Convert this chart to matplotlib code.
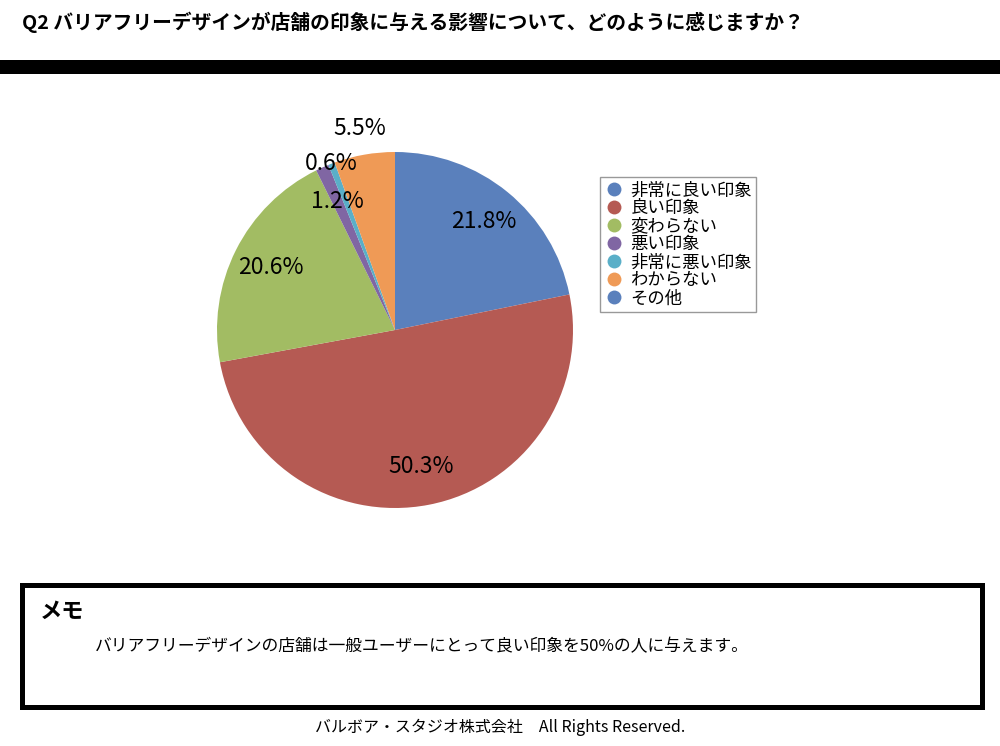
import matplotlib
matplotlib.use("Agg")
import numpy as np
import matplotlib.pyplot as plt
from matplotlib.patches import Rectangle
from matplotlib.lines import Line2D

plt.rcParams['font.family'] = ['Noto Sans CJK JP', 'DejaVu Sans']

# data
title = "Q2 バリアフリーデザインが店舗の印象に与える影響について、どのように感じますか？"
categories = ["非常に良い印象", "良い印象", "変わらない", "悪い印象", "非常に悪い印象", "わからない", "その他"]
shares = [21.8, 50.3, 20.6, 1.2, 0.6, 5.5, 0.0]
colors = ["#5A80BC", "#B55A53", "#A2BC63", "#8066A3", "#5AAFC8", "#EF9A56", "#5A80BC"]
label_dist = [0.79, 0.78, 0.78, 0.79, 1.0, 1.15, 0.78]
memo_text = "バリアフリーデザインの店舗は一般ユーザーにとって良い印象を50%の人に与えます。"
footer = "バルボア・スタジオ株式会社　All Rights Reserved."

W, H = 1000, 746
fig = plt.figure(figsize=(W / 100, H / 100), dpi=100)

# header
fig.text(22 / W, 1 - 22 / H, title, fontsize=14.2, fontweight="bold", ha="left", va="center")
fig.add_artist(Rectangle((0, 1 - 74 / H), 1, 14 / H, transform=fig.transFigure,
                         facecolor="black", edgecolor="none"))

# pie
ax = fig.add_axes([217 / W, 238 / H, 356 / W, 356 / H])
vals = [v for v in shares if v > 0]
cols = [c for v, c in zip(shares, colors) if v > 0]
dists = [d for v, d in zip(shares, label_dist) if v > 0]
wedges, _ = ax.pie(vals, colors=cols, startangle=90, counterclock=False,
                   wedgeprops=dict(linewidth=0))
for w, v, d in zip(wedges, vals, dists):
    ang = np.deg2rad((w.theta1 + w.theta2) / 2)
    ax.text(d * np.cos(ang), d * np.sin(ang), f"{v:.1f}%", ha="center", va="center",
            fontsize=16.5, clip_on=False)
ax.set_xlim(-1, 1)
ax.set_ylim(-1, 1)
ax.set_aspect("equal")
ax.axis("off")

# legend
handles = [Line2D([], [], marker="o", linestyle="none", markersize=10,
                  markerfacecolor=c, markeredgecolor="none") for c in colors]
leg = fig.legend(handles, categories, loc="upper left", bbox_to_anchor=(600 / W, 1 - 177 / H),
                 fontsize=12.5, frameon=True, fancybox=False, edgecolor="#808080",
                 labelspacing=0.0, handletextpad=0.4, handlelength=1.1,
                 borderpad=0.25, borderaxespad=0)
leg.get_frame().set_linewidth(1.0)

# memo box
fig.add_artist(Rectangle((22 / W, 1 - 707 / H), 960 / W, 122 / H, transform=fig.transFigure,
                         facecolor="white", edgecolor="black", linewidth=3.6))
fig.text(40 / W, 1 - 611 / H, "メモ", fontsize=16, fontweight="bold", ha="left", va="center")
fig.text(95 / W, 1 - 647 / H, memo_text, fontsize=12.1, ha="left", va="center")

# footer
fig.text(0.5, 1 - 727 / H, footer, fontsize=11.5, ha="center", va="center")

fig.savefig("out.png", dpi=100)
